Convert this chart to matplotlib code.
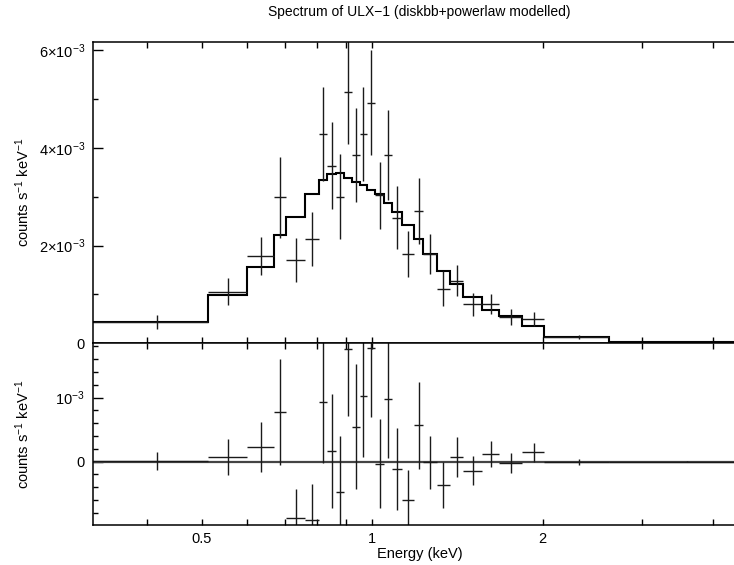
import matplotlib
matplotlib.use("Agg")
import matplotlib.pyplot as plt
import numpy as np
from matplotlib.ticker import FixedLocator, NullLocator

plt.rcParams["font.family"] = ["Liberation Sans", "DejaVu Sans"]
plt.rcParams["mathtext.fontset"] = "custom"
plt.rcParams["mathtext.rm"] = "Liberation Sans"
plt.rcParams["mathtext.it"] = "Liberation Sans:italic"

# ── Data (counts s^-1 keV^-1 in units of 1e-3) ──
energy_edges = [0.3214, 0.5118, 0.5999, 0.6711, 0.7031, 0.7606, 0.8039, 0.8327,
                0.8628, 0.8913, 0.9207, 0.9493, 0.9787, 1.011, 1.049, 1.083,
                1.127, 1.185, 1.229, 1.300, 1.372, 1.448, 1.561, 1.677,
                1.841, 2.013, 2.623, 4.565]
rate = [0.44, 1.057, 1.795, 2.99, 1.707, 2.137, 4.289, 3.639, 3.004, 5.143,
        3.859, 4.283, 4.93, 3.03, 3.852, 2.574, 1.824, 2.711, 1.82, 1.12,
        1.283, 0.799, 0.80, 0.54, 0.498, 0.13, 0.025]
rate_err = [0.14, 0.28, 0.39, 0.83, 0.45, 0.56, 0.96, 0.89, 0.87, 1.05,
            0.97, 0.96, 1.08, 0.69, 0.92, 0.64, 0.47, 0.68, 0.41, 0.36,
            0.32, 0.23, 0.21, 0.16, 0.15, 0.04, 0.008]
model = [0.435, 0.985, 1.56, 2.21, 2.59, 3.05, 3.35, 3.47, 3.48, 3.38,
         3.31, 3.25, 3.15, 3.06, 2.87, 2.69, 2.43, 2.14, 1.83, 1.49,
         1.21, 0.94, 0.68, 0.56, 0.35, 0.135, 0.027]

x_ticks = [0.4, 0.5, 0.6, 0.7, 0.8, 0.9, 1, 2, 3, 4]
x_tick_labels = ["", "0.5", "", "", "", "", "1", "2", "", ""]
top_yticks = [0, 2e-3, 4e-3, 6e-3]
top_ylabels = ["0", r"2$\times$10$^{-3}$", r"4$\times$10$^{-3}$", r"6$\times$10$^{-3}$"]
res_yticks = [0, 1e-3]
res_ylabels = ["0", r"10$^{-3}$"]

TITLE = "Spectrum of ULX\u22121 (diskbb+powerlaw modelled)"
YLABEL = r"counts s$^{-1}$ keV$^{-1}$"
INK = "#1a1a1a"

edges = np.array(energy_edges)
centres = 0.5 * (edges[:-1] + edges[1:])
half = 0.5 * (edges[1:] - edges[:-1])
y = np.array(rate) * 1e-3
yerr = np.array(rate_err) * 1e-3
m = np.array(model) * 1e-3
resid = y - m


def style_axes(ax, yticks, ylabels, yminor, show_xlabels):
    ax.set_xscale("log")
    ax.set_xlim(edges[0], edges[-1])
    ax.xaxis.set_major_locator(FixedLocator(x_ticks))
    ax.xaxis.set_minor_locator(NullLocator())
    ax.set_xticklabels(x_tick_labels if show_xlabels else [""] * len(x_ticks))
    ax.yaxis.set_major_locator(FixedLocator(yticks))
    ax.set_yticklabels(ylabels)
    ax.yaxis.set_minor_locator(FixedLocator(yminor))
    ax.tick_params(axis="x", which="both", direction="in", top=True, bottom=True,
                   length=4, width=1, labelsize=10.5, pad=5)
    ax.tick_params(axis="y", which="major", direction="in", left=True, right=False,
                   length=7, width=1, labelsize=10.5, pad=6)
    ax.tick_params(axis="y", which="minor", direction="in", left=True, right=False,
                   length=3.5, width=1)
    ax.spines["right"].set_visible(False)
    for s in ("left", "top", "bottom"):
        ax.spines[s].set_linewidth(1.1)


fig = plt.figure(figsize=(7.34, 5.65), dpi=100, facecolor="white")

# ── Top panel: data + folded model ──────────────────────
ax_top = fig.add_axes([0.1271, 0.3924, 0.8886, 0.5333])
ax_top.errorbar(centres, y, xerr=half, yerr=yerr, fmt="none",
                ecolor=INK, elinewidth=1.0, capsize=0)
ax_top.stairs(m, edges, color="black", lw=1.5, baseline=None)
ax_top.set_ylim(0, 6.174e-3)
style_axes(ax_top, top_yticks, top_ylabels, [1e-3, 3e-3, 5e-3], False)
ax_top.set_ylabel(YLABEL, fontsize=10.5)
ax_top.yaxis.set_label_coords(-0.094, 0.5)

# ── Bottom panel: residuals ─────────────────────────────
ax_res = fig.add_axes([0.1271, 0.0708, 0.8886, 0.3216])
ax_res.axhline(0, color="#444444", lw=1.6)
ax_res.errorbar(centres, resid, xerr=half, yerr=yerr, fmt="none",
                ecolor=INK, elinewidth=1.0, capsize=0)
ax_res.set_ylim(-0.99e-3, 1.85e-3)
res_minor = [v * 1e-4 for v in (-8, -6, -4, -2, 2, 4, 6, 8, 12, 14, 16, 18)]
style_axes(ax_res, res_yticks, res_ylabels, res_minor, True)
ax_res.set_ylabel(YLABEL, fontsize=10.5)
ax_res.yaxis.set_label_coords(-0.094, 0.5)
ax_res.set_xlabel("Energy (keV)", fontsize=10.5)
ax_res.xaxis.set_label_coords(0.5, -0.122)

fig.text(0.571, 0.979, TITLE, ha="center", va="center", fontsize=10)

fig.savefig("out.png", dpi=100, facecolor="white")
